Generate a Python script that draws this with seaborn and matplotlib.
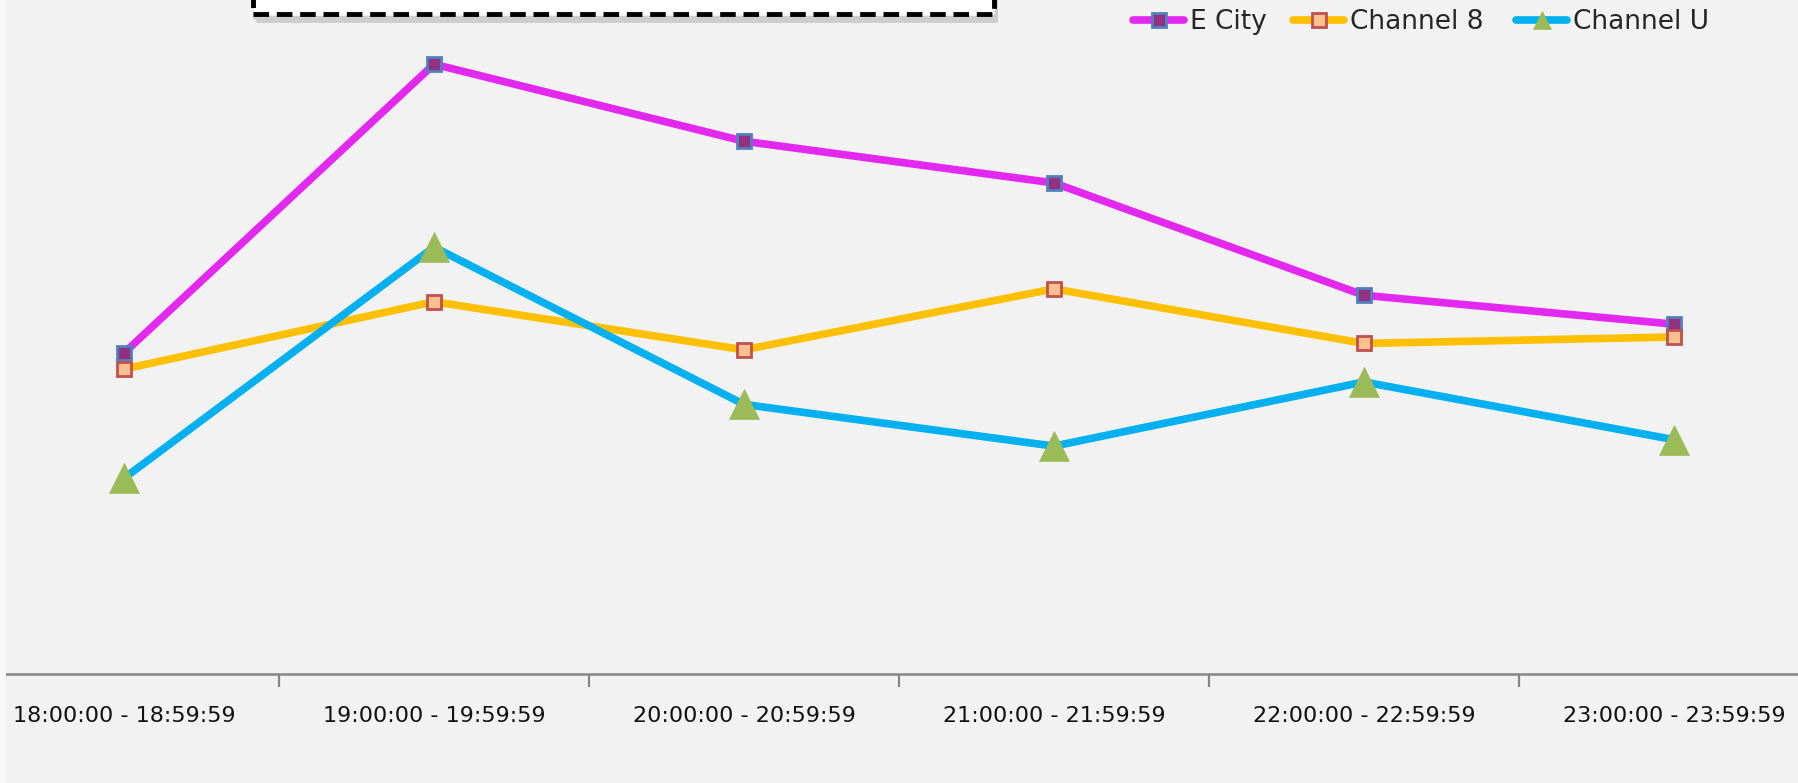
import numpy as np
import pandas as pd
import seaborn as sns
import matplotlib.pyplot as plt
from matplotlib.patches import Rectangle
from matplotlib.lines import Line2D


# data (y axis has no labels, arbitrary units)
time_slots = ['18:00:00 - 18:59:59', '19:00:00 - 19:59:59', '20:00:00 - 20:59:59',
              '21:00:00 - 21:59:59', '22:00:00 - 22:59:59', '23:00:00 - 23:59:59']
e_city = [10.0, 19.0, 16.6, 15.3, 11.8, 10.9]
channel_8 = [9.5, 11.6, 10.1, 12.0, 10.3, 10.5]
channel_u = [6.1, 13.3, 8.4, 7.1, 9.1, 7.3]

series_names = ['E City', 'Channel 8', 'Channel U']
line_colors = ['#e328f0', '#ffc000', '#00b0f0']
marker_faces = ['#93307f', '#fac08f', '#9bbb59']
marker_edges = ['#4f81bd', '#c0504d', '#9bbb59']
marker_shapes = ['s', 's', '^']
marker_sizes = [10, 10, 21]
legend_marker_sizes = [10, 10, 13]
legend_x = [1133, 1293, 1516]   # pixel where each legend entry starts

df = pd.DataFrame({'slot': time_slots, 'E City': e_city,
                   'Channel 8': channel_8, 'Channel U': channel_u})

W, H = 1798, 783
sns.set_theme(style='white')
plt.rcParams['font.family'] = ['DejaVu Sans']

fig = plt.figure(figsize=(W / 100, H / 100), dpi=100)
fig.patch.set_facecolor('#f2f2f2')

# plot area is wider than the picture (reference is cropped left and right)
ax = fig.add_axes([-31 / W, 109 / H, 1860 / W, 674 / H])
ax.set_facecolor('#f2f2f2')

for name, lc, mf, me, mk, ms in zip(series_names, line_colors, marker_faces,
                                    marker_edges, marker_shapes, marker_sizes):
    sns.lineplot(data=df, x='slot', y=name, ax=ax, color=lc, linewidth=5.5,
                 marker=mk, markersize=ms, markerfacecolor=mf,
                 markeredgecolor=me, markeredgewidth=2 if mk == 's' else 0.5,
                 legend=False, sort=False)

ax.set_xlim(-0.5, len(time_slots) - 0.5)
ax.set_ylim(0, 21.0)
ax.set_xlabel('')
ax.set_ylabel('')
ax.set_yticks([])

for s in ['top', 'left', 'right']:
    ax.spines[s].set_visible(False)
ax.spines['bottom'].set_color('#868686')
ax.spines['bottom'].set_linewidth(1.8)

# labels in the middle of each category, tick marks between categories
ax.tick_params(axis='x', which='major', length=0, pad=23, labelsize=16,
               labelcolor='#111111')
ax.set_xticks(np.arange(len(time_slots) - 1) + 0.5, minor=True)
ax.tick_params(axis='x', which='minor', length=9, width=1.6, color='#868686',
               bottom=True)

# one legend per entry so each sits where the reference has it
for name, lc, mf, me, mk, ms, lx in zip(series_names, line_colors, marker_faces,
                                        marker_edges, marker_shapes,
                                        legend_marker_sizes, legend_x):
    h = Line2D([], [], color=lc, linewidth=5.5, marker=mk, markersize=ms,
               markerfacecolor=mf, markeredgecolor=me,
               markeredgewidth=2 if mk == 's' else 0.5)
    fig.legend([h], [name], loc='center left', bbox_to_anchor=(lx / W, 1 - 22 / H),
               frameon=False, fontsize=19, handlelength=1.95,
               handletextpad=0.2, borderpad=0, borderaxespad=0)

# title box cut off at the top of the picture
fig.add_artist(Rectangle((256 / W, 1 - 19 / H), 738 / W, 40 / H,
                         transform=fig.transFigure, facecolor='none',
                         edgecolor='#c4c4c4', lw=5, alpha=0.8,
                         zorder=9, clip_on=False))
fig.add_artist(Rectangle((253 / W, 1 - 14 / H), 741 / W, 40 / H,
                         transform=fig.transFigure, facecolor='white',
                         edgecolor='black', lw=3.5, linestyle=(0, (3.2, 1.6)),
                         zorder=10, clip_on=False))
fig.add_artist(Rectangle((0, 0), 6 / W, 1, transform=fig.transFigure,
                         facecolor='#f9f9f9', edgecolor='none', zorder=10))

fig.savefig('out.png', dpi=100, facecolor=fig.get_facecolor())
